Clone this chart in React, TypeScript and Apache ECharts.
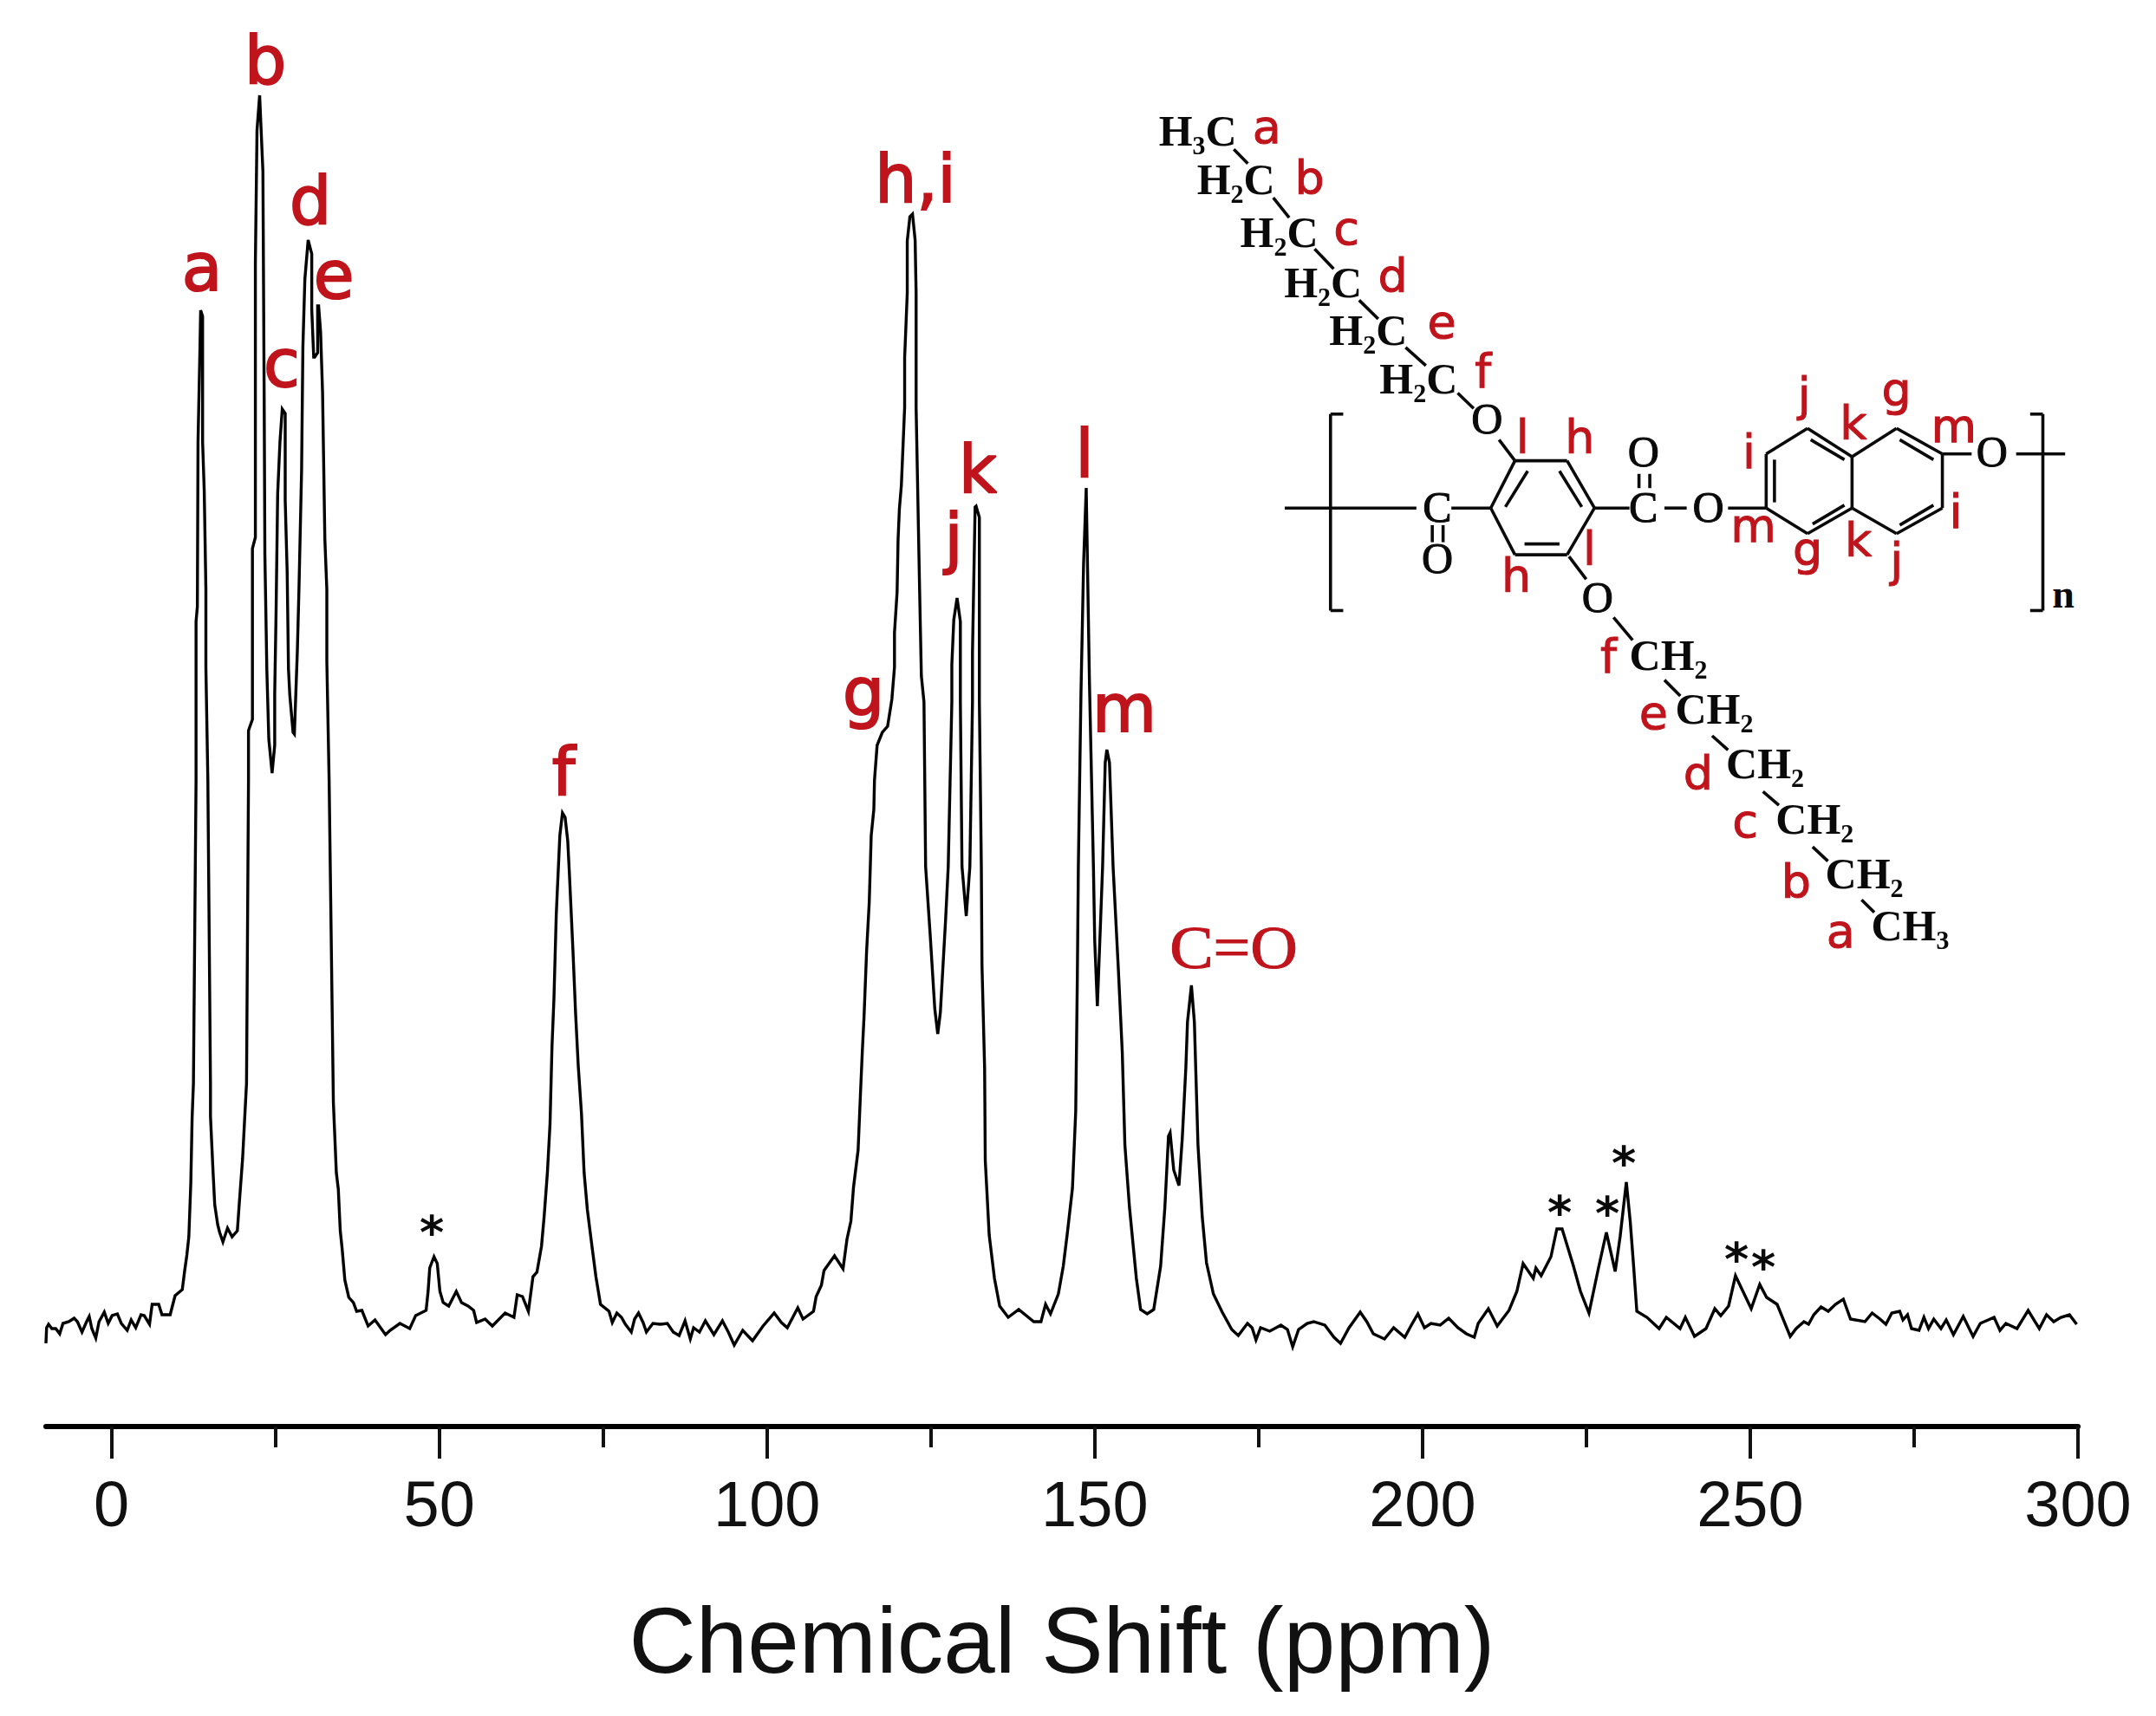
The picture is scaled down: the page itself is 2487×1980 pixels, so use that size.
import React, { useEffect, useRef } from "react";
import * as echarts from "echarts";

type Pt = [number, number];

const majorTicks = [0, 50, 100, 150, 200, 250, 300];
const minorTicks = [25, 75, 125, 175, 225, 275];
const axisTitle = "Chemical Shift (ppm)";

// [chemical shift (ppm), intensity (arbitrary)]
const baselineLeft: Pt[] = [[-10,-20],[-9.9,-2],[-9.6,2],[-9.1,-3],[-8.5,-3],[-7.9,-9],[-7.4,3],[-6.5,5],[-5.7,9],[-5.2,5],[-4.5,-7],[-3.8,5],[-3.4,11],[-3,-3],[-2.4,-14],[-1.9,5],[-1.1,16],[-0.5,3],[0.1,12],[0.9,14],[1.5,3],[2.4,-5],[3,7],[3.7,-2],[4.5,13],[5,12],[5.8,2],[6.2,25],[7.2,25],[7.7,13],[8.95,13],[9.7,35],[10.8,42],[11.15,63],[11.5,82],[11.8,103]];
const peaksAtoE: Pt[] = [[12.1,165],[12.3,240],[12.5,280],[12.9,630],[12.9,813],[13.1,830],[13.2,1020],[13.5,1130],[13.6,1172],[13.9,1165],[13.9,1020],[14.15,963],[14.4,850],[14.4,760],[14.7,630],[15.1,280],[15.1,242],[15.5,177],[15.75,140],[16.2,117],[16.5,108],[17,97],[17.7,113],[18.4,103],[19.2,110],[19.5,142],[20,193],[20.3,237],[20.6,280],[20.9,630],[20.9,687],[21.5,700],[21.5,897],[21.95,910],[21.95,1227],[22.2,1380],[22.6,1420],[23.1,1332],[23.3,1060],[23.4,890],[23.7,757],[24,677],[24.5,638],[24.9,670],[24.9,730],[25.1,820],[25.35,960],[25.7,1020],[26.05,1058],[26.5,1053],[26.5,953],[26.8,870],[27,758],[27.2,728],[27.7,685],[27.9,683],[28.35,778],[28.6,850],[29,987],[29.2,1130],[29.5,1208],[30,1253],[30.55,1237],[30.55,1173],[30.85,1118],[31,1118],[31.45,1123],[31.45,1177],[31.6,1177],[31.9,1147],[32.2,1077],[32.55,908],[32.85,850],[32.85,767],[33.2,630],[33.85,258],[34.3,177],[34.6,158],[34.9,110],[35.2,88],[35.6,53],[36.2,33],[36.9,27],[37.4,17],[38.2,18],[39.15,0]];
const sidebandLow: Pt[] = [[40.2,7],[41.8,-10],[42.5,-5],[44,3],[45.5,-3],[46.4,12],[48,18],[48.3,40],[48.55,67],[49.2,80],[49.7,72],[50.1,40],[50.6,27],[51.45,23],[52.6,40],[53.4,27],[54.4,23],[55.25,18],[55.7,4],[57,8],[58.1,0],[60.05,15],[61.4,10],[61.9,36],[62.7,34],[63.6,17]];
const peakF: Pt[] = [[64.3,57],[64.9,62],[65.6,92],[66,126],[66.5,177],[66.9,233],[67.2,322],[67.5,378],[67.85,474],[68,500],[68.4,566],[68.8,592],[69.2,587],[69.6,560],[69.85,523],[70.4,433],[70.8,361],[71.2,301],[71.7,245],[72.1,177],[72.6,134],[73.3,92],[73.9,57],[74.6,25]];
const baselineMid: Pt[] = [[75.9,17],[76.4,4],[77.1,15],[77.8,10],[78.4,2],[79.3,-7],[79.8,8],[80.4,15],[81.1,4],[81.6,-7],[82.6,3],[83.7,2],[84.8,3],[85.7,-7],[86.6,-11],[87.5,6],[88.3,-15],[88.8,-2],[89.7,-7],[90.6,6],[91.9,-10],[93.2,6],[94.1,-7],[95,-22],[96.3,-5],[97.8,-17],[99.4,0],[101.1,15],[102.2,4],[103.1,-2],[104.7,21],[105.5,8],[107.1,17],[107.5,34],[108.3,47],[108.7,64],[110.3,81],[111.6,66]];
const peaksGtoK: Pt[] = [[112.2,100],[112.8,121],[113.2,160],[113.9,203],[114.3,275],[114.55,318],[114.8,356],[115.2,433],[115.6,489],[115.9,566],[116.3,596],[116.4,630],[116.8,670],[117.6,685],[118.4,692],[119.05,723],[119.45,760],[119.45,800],[119.85,847],[120,908],[120.2,943],[120.5,970],[121,1060],[121,1117],[121.4,1192],[121.4,1252],[121.8,1280],[122.2,1283],[122.6,1253],[122.75,1192],[122.75,1060],[123.3,843],[123.55,750],[123.95,720],[124.2,530],[124.9,451],[125.6,366],[126.05,337],[126.45,362],[127.25,469],[127.65,530],[128.2,720],[128.2,763],[128.5,815],[129,840],[129.5,813],[129.5,720],[129.75,530],[130.4,473],[130.95,530],[131.35,720],[131.35,777],[131.75,945],[131.9,946],[132.4,933],[132.4,720],[132.7,530],[132.8,416],[133.2,298],[133.3,191],[133.9,105],[134.7,55],[135.5,23],[136.8,10],[138.4,19],[140.7,5],[141.8,5],[142.5,25],[143.25,14]];
const peaksLtoM: Pt[] = [[144.45,37],[145.2,69],[145.85,109],[146.6,159],[147.1,248],[147.35,405],[147.5,530],[147.9,730],[148.3,880],[148.7,967],[149.2,740],[149.8,530],[150,444],[150.4,369],[150.9,469],[151.2,530],[151.6,650],[151.85,665],[152.25,650],[152.8,530],[153.6,412],[154.2,316],[154.6,209],[155.3,137],[156.35,55],[157,19],[158,14],[159,19]];
const carbonyl: Pt[] = [[160.05,69],[160.7,137],[161.25,219],[161.5,223],[162.05,180],[162.85,162],[163.35,216],[163.9,298],[164.15,351],[164.75,393],[165.2,351],[165.75,209],[166.4,126],[167.05,73],[168.1,37],[169.45,16],[170.9,-4]];
const baselineHigh: Pt[] = [[171.9,-11],[173.3,3],[174,-2],[174.6,-16],[175.3,-2],[176.7,-6],[178.4,1],[179.4,-4],[180.2,-24],[181.1,-4],[182.4,3],[183.4,5],[185.1,1],[186.5,-13],[187.5,-20],[188.8,-2],[190.5,16],[191.5,5],[192.5,-9],[194.2,-15],[195.6,-2],[197.3,-13],[198.3,1],[199.3,14],[200.3,-2],[201.3,3],[202.7,1],[204,9],[205.4,-2],[206.7,-9],[207.9,-13],[208.5,3],[210.05,20],[211.4,0]];
const sidebandHigh: Pt[] = [[213.2,18],[214.4,40],[215.35,72],[216.9,55],[217.3,67],[218.1,58],[219.6,80],[220.5,112],[221.3,112],[223,70],[224.1,40],[225.4,15],[226.85,67],[228.05,108],[229.4,63],[230.15,103],[231.1,166],[231.7,120],[232.2,70],[232.7,17],[234.25,10],[236.1,-3],[237.2,10],[239.3,-3],[240.1,10],[241.5,-12],[243.25,-3],[244.6,20],[245.5,12],[246.7,23],[247.75,58],[250.15,20],[251.45,48],[252.5,33],[254.1,25],[256.1,-12]];
const baselineEnd: Pt[] = [[257,-3],[258.2,5],[258.9,2],[259.7,13],[260.8,22],[261.9,17],[263,25],[264.2,31],[265.3,8],[267.5,5],[268.6,15],[269.8,8],[270.7,2],[271.6,15],[272.8,17],[273.3,7],[274,13],[274.6,-3],[275.75,-5],[276.5,10],[277.2,-3],[278,8],[279.1,-3],[279.9,7],[281,-10],[282.5,11],[284,-12],[285.1,3],[287.2,10],[288.1,-5],[289,3],[290.7,-3],[292.4,18],[294.1,-3],[295.2,13],[296.3,5],[297.4,10],[298.7,13],[299.8,2]];

const spectrum: Pt[] = [...baselineLeft, ...peaksAtoE, ...sidebandLow, ...peakF, ...baselineMid, ...peaksGtoK, ...peaksLtoM, ...carbonyl, ...baselineHigh, ...sidebandHigh, ...baselineEnd];

const RED = "#c0141c";
const INK = "#0a0a0a";

// label, centre x, text baseline y in the page
const peakLabels: [string, number, number][] = [
  ["a", 233, 335], ["b", 306, 96], ["c", 325, 446], ["d", 358, 258], ["e", 385, 344],
  ["f", 650, 917], ["g", 996, 825], ["h,i", 1056, 233], ["j", 1100, 647], ["k", 1128, 568],
  ["l", 1251, 550], ["m", 1297, 844],
];
const starLabels: [number, number][] = [[498, 1416], [1799, 1393], [1854, 1394], [1873, 1336], [2003, 1447], [2034, 1456]];

// structure drawing, in its own local coordinates
const sx = (v: number) => 1300 + v / 1.363;
const sy = (v: number) => 100 + v / 1.522;
const bonds: number[][] = [
  [168,110,190,135],[230,195,255,230],[295,285,325,320],[365,375,395,408],[438,458,470,490],[520,538,545,565],
  [585,620,610,657],[610,657,692,657],[692,657,735,740],[735,740,692,822],[692,822,610,822],[610,822,572,740],[572,740,610,657],
  [630,675,595,738],[680,675,715,738],[625,803,680,803],
  [248,740,455,740],[510,740,572,740],[480,770,480,800],[497,770,497,800],
  [735,740,790,740],[805,680,805,705],[822,680,822,705],[845,740,880,740],[945,740,1005,740],
  [1005,645,1070,600],[1070,600,1140,650],[1140,650,1140,740],[1140,740,1070,785],[1070,785,1005,740],[1005,740,1005,645],
  [1140,650,1210,600],[1210,600,1282,645],[1282,645,1282,740],[1282,740,1210,785],[1210,785,1140,740],
  [1018,655,1018,730],[1075,620,1128,655],[1078,768,1128,735],[1215,620,1268,655],[1215,770,1268,735],
  [1282,645,1328,645],[1398,645,1475,645],
  [340,575,320,575],[320,575,320,920],[320,920,340,920],[1420,575,1440,575],[1440,575,1440,920],[1440,920,1420,920],
  [695,825,722,865],[765,932,795,972],[845,1042,870,1070],[920,1140,945,1165],[1000,1238,1025,1262],[1078,1335,1102,1360],[1155,1428,1175,1450],
];
const chemTexts: [string, number, number][] = [
  ["H₃C",50,105],["H₂C",110,190],["H₂C",178,283],["H₂C",247,370],["H₂C",318,455],["H₂C",397,540],
  ["CH₂",790,1025],["CH₂",862,1120],["CH₂",942,1215],["CH₂",1020,1312],["CH₂",1098,1408],["CH₃",1170,1500],
];
const atomTexts: [string, number, number][] = [
  ["O",566,610],["C",488,765],["O",488,855],["C",812,765],["O",812,668],["O",914,765],["O",740,923],["O",1360,668],
];
const structLabels: [string, number, number][] = [
  ["a",220,100],["b",287,190],["c",345,278],["d",418,362],["e",495,442],["f",560,528],
  ["l",622,645],["h",712,645],["j",1065,570],["g",1210,560],["k",1142,620],["m",1300,625],["i",978,670],["i",1303,775],
  ["m",985,800],["g",1070,840],["k",1150,825],["j",1210,860],["h",612,888],["l",727,840],
  ["f",757,1030],["e",828,1128],["d",898,1235],["c",972,1318],["b",1052,1425],["a",1122,1512],
];

const textEl = (text: string, x: number, baseline: number, size: number, family: string, fill: string, align = "center", weight = "normal", stroke = 0, scaleX = 1) => ({
  type: "text", x, y: baseline - 0.35 * size, silent: true, scaleX,
  style: { text, fontSize: size, fontFamily: family, fontWeight: weight, fill, align, verticalAlign: "middle", stroke: stroke ? fill : undefined, lineWidth: stroke },
});

const SANS = "'DejaVu Sans'";
const SERIF = "'Liberation Serif'";

function buildGraphic() {
  const els: any[] = [];
  peakLabels.forEach(([t, x, y]) => els.push(textEl(t, x, y, 76, SANS, RED, "center", "normal", 2)));
  els.push(textEl("C=O", 1423, 1118, 70, SERIF, RED, "center", "normal", 1, 1.08));
  starLabels.forEach(([x, y]) => els.push(textEl("*", x, y + 25, 54, SANS, INK, "center", "bold")));
  bonds.forEach((b) => els.push({
    type: "line", silent: true,
    shape: { x1: sx(b[0]), y1: sy(b[1]), x2: sx(b[2]), y2: sy(b[3]) },
    style: { stroke: INK, lineWidth: 3.6 },
  }));
  chemTexts.forEach(([t, x, y]) => els.push(textEl(t, sx(x), sy(y), 50, SERIF, INK, "left", "bold")));
  atomTexts.forEach(([t, x, y]) => els.push(textEl(t, sx(x), sy(y), 50, SERIF, INK, "center", "normal", 1)));
  els.push(textEl("n", sx(1472), sy(915), 46, SERIF, INK, "center", "bold"));
  structLabels.forEach(([t, x, y]) => els.push(textEl(t, sx(x), sy(y), 54, SANS, RED, "center", "normal", 1)));
  return els;
}

export default function App() {
  const ref = useRef<HTMLDivElement>(null);
  useEffect(() => {
    const chart = echarts.init(ref.current!, undefined, { renderer: "svg" });
    const commonAxis = { type: "value", min: -10, max: 300, position: "bottom", splitLine: { show: false } };
    chart.setOption({
      animation: false,
      backgroundColor: "#ffffff",
      grid: { left: 53, width: 2344, top: 100, height: 1546, containLabel: false },
      xAxis: [
        {
          ...commonAxis,
          name: axisTitle,
          nameLocation: "middle",
          nameGap: 193,
          nameTextStyle: { fontSize: 107, fontFamily: "'Liberation Sans'", color: "#111" },
          axisLine: { show: true, onZero: false, lineStyle: { color: "#000", width: 6 } },
          axisTick: { show: true, length: 37, customValues: majorTicks, lineStyle: { color: "#111", width: 4 } },
          axisLabel: { show: true, customValues: majorTicks, margin: 52, fontSize: 74, fontFamily: "'Liberation Sans'", color: "#111" },
        },
        {
          ...commonAxis,
          axisLine: { show: false, onZero: false },
          axisTick: { show: true, length: 24, customValues: minorTicks, lineStyle: { color: "#111", width: 4 } },
          axisLabel: { show: false },
        },
      ],
      yAxis: { type: "value", min: -116, max: 1430, show: false },
      series: [{
        type: "line",
        data: spectrum,
        xAxisIndex: 0,
        showSymbol: false,
        smooth: false,
        clip: false,
        lineStyle: { color: "#000", width: 3.4, join: "miter" },
      }],
      graphic: { elements: buildGraphic() },
    });
    return () => chart.dispose();
  }, []);
  return <div ref={ref} style={{ position: "absolute", left: 0, top: 0, width: 2487, height: 1980 }} />;
}
